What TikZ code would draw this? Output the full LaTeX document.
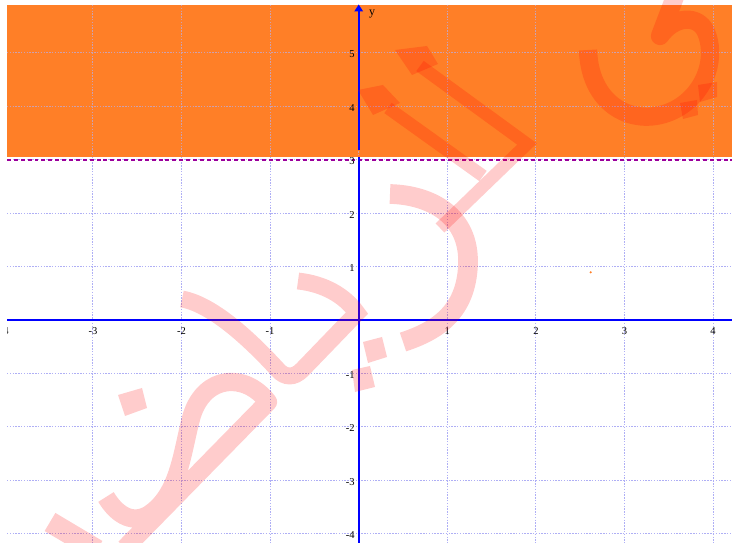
\documentclass[tikz,border=0pt]{standalone}
\usepackage{fontspec}
\setmainfont{Liberation Serif}
\definecolor{bgorange}{RGB}{255,127,39}
\definecolor{gridc}{RGB}{175,175,245}
\definecolor{gridonorange}{RGB}{205,160,175}
\definecolor{dashc}{RGB}{155,0,155}
\definecolor{axisc}{RGB}{0,0,255}
\begin{document}
\begin{tikzpicture}[x=0.025cm,y=-0.025cm,
  gridline/.style={draw=gridc, line width=0.7pt, dash pattern=on 1pt off 1pt},
  axisline/.style={draw=axisc, line width=1.4pt},
  ticklabel/.style={font=\fontsize{7.5}{8}\selectfont, inner sep=0pt},
  wm/.style={draw=red, draw opacity=0.2, line cap=butt, line join=round},
  wmf/.style={fill=red, fill opacity=0.2}]
\useasboundingbox (0,0) rectangle (732,543);
\begin{scope}
\clip (7,-2) rectangle (734,545);
% shaded region y >= 3
\fill[bgorange] (7,5) rectangle (732,157);
% grid
\foreach \k in {-4,...,4} \draw[gridline] ({358.7+88.6*\k},5) -- ({358.7+88.6*\k},543);
\foreach \k in {-4,...,5} \draw[gridline] (7,{320-53.43*\k}) -- (732,{320-53.43*\k});
\begin{scope}
\clip (7,5) rectangle (732,157);
\foreach \k in {-4,...,4} \draw[gridline, draw=gridonorange] ({358.7+88.6*\k},5) -- ({358.7+88.6*\k},157);
\foreach \k in {4,5} \draw[gridline, draw=gridonorange] (7,{320-53.43*\k}) -- (732,{320-53.43*\k});
\end{scope}
% boundary line y = 3
\draw[draw=dashc, line width=1.4pt, dash pattern=on 2.8pt off 2.1pt] (7,160) -- (732,160);
% axes
\coordinate (xa) at (7,320);
\coordinate (xb) at (732,320);
\coordinate (ya) at (358.7,543);
\coordinate (yb) at (358.7,157);
\coordinate (yc) at (358.7,150);
\coordinate (yd) at (358.7,10);
\draw[axisline] (xa) -- (xb);
\draw[axisline] (ya) -- (yb);
\draw[axisline] (yc) -- (yd);
\fill[axisc] (354.2,11.5) -- (358.7,4.5) -- (363.2,11.5) -- cycle;
% tick labels
\foreach \k in {-4,-3,-2,-1,1,2,3,4}
  \node[ticklabel] (xl\k) at ({358.7+88.6*\k},331) {\k};
\foreach \k in {-4,-3,-2,-1,1,2,3,4,5}
  \node[ticklabel, anchor=east] (yl\k) at (355,{321.5-53.43*\k}) {\k};
\node[ticklabel, font=\fontsize{8.5}{9}\selectfont] (ylab) at (372,14) {y};
\fill[bgorange] (590.7,272.3) circle (1.2);
% watermark
% top-right letter with two dots
\draw[wm, line width=13pt] (588,50) .. controls (590,110) and (640,130) .. (678,108) .. controls (708,90) and (716,55) .. (706,32) .. controls (698,14) and (674,16) .. (660,36) -- (676,-6);
\fill[wmf] (698,85) -- (717,82) -- (717,97) -- (700,102) -- cycle;
\fill[wmf] (680,103) -- (697,100) -- (698,115) -- (683,119) -- cycle;
% two alif-like strokes
\fill[wmf] (395,50) -- (427,46) -- (438,64) -- (412,75) -- cycle;
\draw[wm, line width=9pt, line join=miter] (420,66) -- (527,144) -- (440,228);
\fill[wmf] (358,90) -- (383,85) -- (400,103) -- (373,115) -- cycle;
\draw[wm, line width=9pt] (388,108) -- (483,176);
% ra-like curve
\draw[wm, line width=14pt] (390,194) .. controls (430,195) and (470,215) .. (468,265) .. controls (466,310) and (440,330) .. (403,342);
% hook near origin
\draw[wm, line width=12pt, line join=miter] (298,281) .. controls (325,284) and (345,296) .. (357,313) -- (302,370) .. controls (294,378) and (285,378) .. (278,370) .. controls (255,345) and (215,305) .. (182,299);
\fill[wmf] (363,342) -- (382,337) -- (387,357) -- (368,363) -- cycle;
\fill[wmf] (352,370) -- (370,366) -- (375,387) -- (355,392) -- cycle;
\fill[wmf] (118,395) -- (142,388) -- (147,408) -- (125,416) -- cycle;
% loop letter
\draw[wm, line width=13pt] (106,497) .. controls (115,512) and (130,525) .. (148,515) .. controls (180,495) and (182,450) .. (192,415) .. controls (205,375) and (245,372) .. (268,402) -- (125,548);
% bottom-left stroke
\draw[wm, line width=15pt] (50,522) -- (97,550);
\end{scope}
\end{tikzpicture}
\end{document}
